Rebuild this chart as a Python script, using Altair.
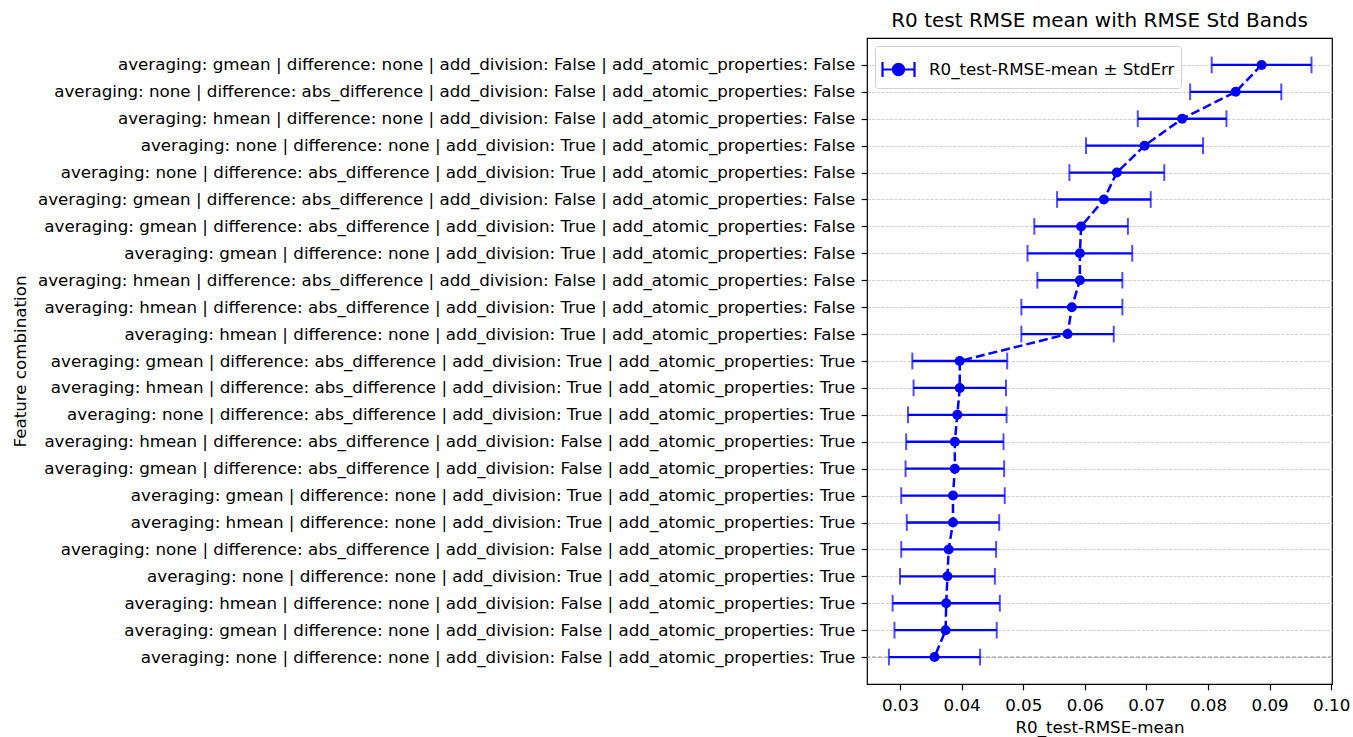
import altair as alt
import pandas as pd

labels = [
    "averaging: gmean | difference: none | add_division: False | add_atomic_properties: False",
    "averaging: none | difference: abs_difference | add_division: False | add_atomic_properties: False",
    "averaging: hmean | difference: none | add_division: False | add_atomic_properties: False",
    "averaging: none | difference: none | add_division: True | add_atomic_properties: False",
    "averaging: none | difference: abs_difference | add_division: True | add_atomic_properties: False",
    "averaging: gmean | difference: abs_difference | add_division: False | add_atomic_properties: False",
    "averaging: gmean | difference: abs_difference | add_division: True | add_atomic_properties: False",
    "averaging: gmean | difference: none | add_division: True | add_atomic_properties: False",
    "averaging: hmean | difference: abs_difference | add_division: False | add_atomic_properties: False",
    "averaging: hmean | difference: abs_difference | add_division: True | add_atomic_properties: False",
    "averaging: hmean | difference: none | add_division: True | add_atomic_properties: False",
    "averaging: gmean | difference: abs_difference | add_division: True | add_atomic_properties: True",
    "averaging: hmean | difference: abs_difference | add_division: True | add_atomic_properties: True",
    "averaging: none | difference: abs_difference | add_division: True | add_atomic_properties: True",
    "averaging: hmean | difference: abs_difference | add_division: False | add_atomic_properties: True",
    "averaging: gmean | difference: abs_difference | add_division: False | add_atomic_properties: True",
    "averaging: gmean | difference: none | add_division: True | add_atomic_properties: True",
    "averaging: hmean | difference: none | add_division: True | add_atomic_properties: True",
    "averaging: none | difference: abs_difference | add_division: False | add_atomic_properties: True",
    "averaging: none | difference: none | add_division: True | add_atomic_properties: True",
    "averaging: hmean | difference: none | add_division: False | add_atomic_properties: True",
    "averaging: gmean | difference: none | add_division: False | add_atomic_properties: True",
    "averaging: none | difference: none | add_division: False | add_atomic_properties: True",
]

rmse_mean = [0.0887, 0.0845, 0.0758, 0.0697, 0.0652, 0.0631, 0.0594, 0.0592,
             0.0592, 0.0579, 0.0572, 0.0397, 0.0397, 0.0393, 0.0389, 0.0389,
             0.0386, 0.0386, 0.0379, 0.0377, 0.0375, 0.0374, 0.0356]

rmse_err = [0.0081, 0.0074, 0.0072, 0.0095, 0.0077, 0.0076, 0.0076, 0.0085,
            0.0069, 0.0082, 0.0075, 0.0077, 0.0075, 0.0080, 0.0079, 0.0080,
            0.0084, 0.0075, 0.0077, 0.0077, 0.0087, 0.0083, 0.0074]

x_ticks = [0.03, 0.04, 0.05, 0.06, 0.07, 0.08, 0.09, 0.10]

series_name = "R0_test-RMSE-mean ± StdErr"

df = pd.DataFrame({
    "label": labels,
    "mean": rmse_mean,
    "lower": [m - e for m, e in zip(rmse_mean, rmse_err)],
    "upper": [m + e for m, e in zip(rmse_mean, rmse_err)],
    "idx": list(range(len(labels))),
    "series": [series_name] * len(labels),
})

BLUE = "#0000ff"
FONT = "DejaVu Sans"
FS = 16.7

x_scale = alt.Scale(domain=[0.02464, 0.10013], nice=False, zero=False)
y_scale = alt.Scale(type="point", domain=labels, padding=1.05)

y_axis = alt.Axis(
    title="Feature combination",
    labelLimit=2000,
    labelFontSize=FS,
    labelFont=FONT,
    labelColor="black",
    labelPadding=6.5,
    tickSize=5.8,
    tickColor="black",
    tickWidth=1.2,
    domain=False,
    grid=True,
    gridColor="#c8c8c8",
    gridDash=[3.1, 1.4],
    gridWidth=0.85,
    titleFontSize=FS,
    titleFont=FONT,
    titleFontWeight="normal",
    titleColor="black",
    titleX=-842,
    titleY=323,
    titleAngle=270,
    titleAlign="center",
    titleBaseline="alphabetic",
)

x_axis = alt.Axis(
    title="R0_test-RMSE-mean",
    values=x_ticks,
    format=".2f",
    labelFlush=False,
    labelFontSize=FS,
    labelFont=FONT,
    labelColor="black",
    labelPadding=8,
    tickSize=5.8,
    tickColor="black",
    tickWidth=1.2,
    domain=False,
    grid=False,
    titleFontSize=FS,
    titleFont=FONT,
    titleFontWeight="normal",
    titleColor="black",
    titlePadding=5,
)

base = alt.Chart(df)

y_main = alt.Y("label:N", scale=y_scale, axis=y_axis, sort=labels)
y_plain = alt.Y("label:N", scale=y_scale, sort=labels)

baseline_rule = alt.Chart(df.tail(1)).mark_rule(
    color="#8c8c8c", strokeDash=[4, 2], strokeWidth=1
).encode(y=y_plain)

errbar = base.mark_rule(color=BLUE, strokeWidth=2.3).encode(
    x=alt.X("lower:Q", scale=x_scale, axis=x_axis),
    x2="upper:Q",
    y=y_main,
)

cap_lo = base.mark_tick(color=BLUE, thickness=2, size=16.7).encode(
    x=alt.X("lower:Q", scale=x_scale),
    y=y_plain,
)
cap_hi = base.mark_tick(color=BLUE, thickness=2, size=16.7).encode(
    x=alt.X("upper:Q", scale=x_scale),
    y=y_plain,
)

line = base.mark_line(color=BLUE, strokeWidth=2.5, strokeDash=[9, 4]).encode(
    x=alt.X("mean:Q", scale=x_scale),
    y=y_plain,
    order=alt.Order("idx:Q"),
)

legend_path = ("M -1,0 L 1,0 M -1,-0.47 L -1,0.47 M 1,-0.47 L 1,0.47 "
               "M -0.35,0 A 0.35,0.35 0 1,1 0.35,0 A 0.35,0.35 0 1,1 -0.35,0 Z")

points = base.mark_point(filled=True, size=100, opacity=1).encode(
    x=alt.X("mean:Q", scale=x_scale),
    y=y_plain,
    color=alt.Color(
        "series:N",
        scale=alt.Scale(domain=[series_name], range=[BLUE]),
        legend=alt.Legend(
            title=None,
            orient="top-left",
            offset=8,
            symbolType=legend_path,
            symbolSize=1024,
            symbolStrokeColor=BLUE,
            symbolFillColor=BLUE,
            symbolStrokeWidth=2.2,
            symbolOpacity=1,
            labelFontSize=FS,
            labelFont=FONT,
            labelColor="black",
            labelLimit=2000,
            labelOffset=13,
            padding=6,
            strokeColor="#d0d0d0",
            fillColor="white",
            cornerRadius=3,
        ),
    ),
)

chart = alt.layer(baseline_rule, errbar, cap_lo, cap_hi, line, points).properties(
    width=465,
    height=646,
    title=alt.Title(
        "R0 test RMSE mean with RMSE Std Bands",
        fontSize=20,
        font=FONT,
        fontWeight="normal",
        color="black",
        anchor="middle",
        offset=7,
    ),
    autosize=alt.AutoSizeParams(type="none"),
    padding={"left": 867, "top": 38, "right": 21, "bottom": 53},
).configure(
    background="white"
).configure_view(
    stroke="black", strokeWidth=1.2
).configure_title(
    fontSize=20, font=FONT, fontWeight="normal", color="black"
)

chart.save("out.html", embed_options={"renderer": "svg", "actions": False})
